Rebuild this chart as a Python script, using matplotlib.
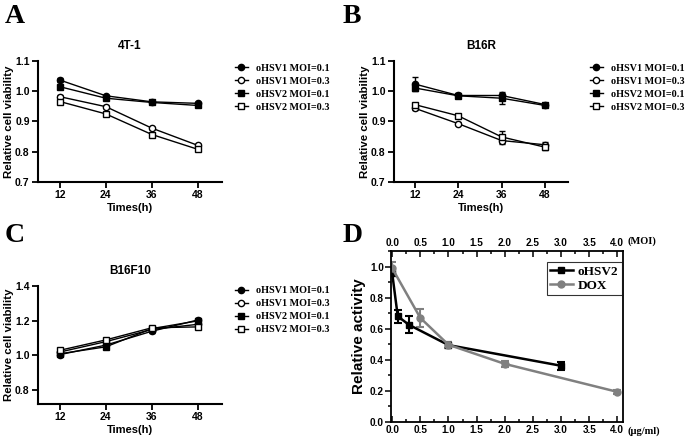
"""Oncolytic HSV viability panels (A-C) and dose-response comparison (D)."""

import matplotlib

matplotlib.use("Agg")

import matplotlib.pyplot as plt
from matplotlib.lines import Line2D
from matplotlib.ticker import AutoMinorLocator, MultipleLocator


TIMES = [12, 24, 36, 48]
SERIES_NAMES = ["oHSV1 MOI=0.1", "oHSV1 MOI=0.3", "oHSV2 MOI=0.1", "oHSV2 MOI=0.3"]

# panel A, 4T-1
A_VALUES = [
    [1.037, 0.985, 0.965, 0.960],
    [0.982, 0.949, 0.878, 0.821],
    [1.015, 0.977, 0.963, 0.953],
    [0.966, 0.925, 0.857, 0.808],
]
A_ERRORS = [
    [0.008, 0.004, 0.003, 0.004],
    [0.005, 0.004, 0.004, 0.005],
    [0.005, 0.004, 0.003, 0.004],
    [0.005, 0.005, 0.004, 0.005],
]

# panel B, B16R
B_VALUES = [
    [1.024, 0.986, 0.986, 0.956],
    [0.944, 0.893, 0.837, 0.823],
    [1.011, 0.985, 0.977, 0.953],
    [0.956, 0.919, 0.849, 0.815],
]
B_ERRORS = [
    [0.022, 0.008, 0.006, 0.005],
    [0.005, 0.006, 0.010, 0.010],
    [0.008, 0.006, 0.020, 0.005],
    [0.005, 0.006, 0.020, 0.008],
]

# panel C, B16F10
C_VALUES = [
    [1.005, 1.060, 1.140, 1.205],
    [1.020, 1.080, 1.150, 1.180],
    [1.010, 1.050, 1.155, 1.200],
    [1.030, 1.090, 1.160, 1.165],
]
C_ERRORS = [
    [0.010, 0.010, 0.008, 0.012],
    [0.010, 0.010, 0.008, 0.012],
    [0.010, 0.012, 0.008, 0.012],
    [0.010, 0.010, 0.008, 0.012],
]

# panel D
OHSV2_MOI = [0.0, 0.1, 0.3, 1.0, 3.0]
OHSV2_ACTIVITY = [0.96, 0.68, 0.625, 0.495, 0.362]
OHSV2_ERR = [0.02, 0.04, 0.055, 0.02, 0.025]
DOX_DOSE = [0.0, 0.5, 1.0, 2.0, 4.0]
DOX_ACTIVITY = [0.99, 0.67, 0.497, 0.374, 0.194]
DOX_ERR = [0.04, 0.06, 0.02, 0.02, 0.012]

SERIES_STYLES = [
    {"marker": "o", "mfc": "black"},
    {"marker": "o", "mfc": "white"},
    {"marker": "s", "mfc": "black"},
    {"marker": "s", "mfc": "white"},
]

SANS = "Liberation Sans"
SERIF = "Liberation Serif"
DOX_GREY = "#808080"


def style_prism_axes(ax):
    for side in ("top", "right"):
        ax.spines[side].set_visible(False)
    for side in ("left", "bottom"):
        ax.spines[side].set_linewidth(1.5)
    ax.tick_params(direction="out", length=4, width=1.3, labelsize=7.5, pad=2)
    for label in ax.get_xticklabels() + ax.get_yticklabels():
        label.set_fontfamily(SANS)
        label.set_fontweight("bold")


def draw_viability_panel(ax, title, values, errors, ylim, yticks, letter, letter_xy, legend_xy):
    for name, vals, errs, style in zip(SERIES_NAMES, values, errors, SERIES_STYLES):
        ax.errorbar(
            TIMES,
            vals,
            yerr=errs,
            color="black",
            linewidth=1.0,
            marker=style["marker"],
            markersize=4.5,
            markerfacecolor=style["mfc"],
            markeredgecolor="black",
            markeredgewidth=1.0,
            capsize=2.5,
            elinewidth=1.0,
            label=name,
        )
    ax.set_xlim(6.3, 54.3)
    ax.set_ylim(*ylim)
    ax.set_xticks(TIMES)
    ax.set_yticks(yticks)
    ax.set_yticklabels(["{:.1f}".format(v) for v in yticks])
    style_prism_axes(ax)
    ax.set_title(title, fontsize=8.5, fontweight="bold", family=SANS, pad=9)
    ax.set_xlabel("Times(h)", fontsize=8, fontweight="bold", family=SANS, labelpad=2)
    ax.set_ylabel("Relative cell viability", fontsize=8.2, fontweight="bold", family=SANS, labelpad=1)

    handles = [
        Line2D([0], [0], color="black", linewidth=1.0, marker=s["marker"], markersize=4.5,
               markerfacecolor=s["mfc"], markeredgecolor="black")
        for s in SERIES_STYLES
    ]
    ax.legend(
        handles,
        SERIES_NAMES,
        loc="upper left",
        bbox_to_anchor=legend_xy,
        frameon=False,
        handlelength=1.3,
        handletextpad=0.8,
        labelspacing=0.38,
        borderpad=0.2,
        prop={"family": SERIF, "weight": "bold", "size": 7.3},
    )
    ax.figure.text(letter_xy[0], letter_xy[1], letter, fontsize=20, fontweight="bold",
                   family=SERIF, va="top", ha="left")


def draw_dose_panel(ax):
    ax.errorbar(OHSV2_MOI, OHSV2_ACTIVITY, yerr=OHSV2_ERR, color="black", linewidth=1.8,
                marker="s", markersize=5, capsize=3, elinewidth=1.5, capthick=1.5)
    ax.errorbar(DOX_DOSE, DOX_ACTIVITY, yerr=DOX_ERR, color=DOX_GREY, linewidth=1.8,
                marker="o", markersize=5, capsize=3, elinewidth=1.5, capthick=1.5)
    ax.set_xlim(-0.02, 4.1)
    ax.set_ylim(0, 1.1)
    ax.xaxis.set_major_locator(MultipleLocator(0.5))
    ax.xaxis.set_minor_locator(AutoMinorLocator(2))
    ax.yaxis.set_major_locator(MultipleLocator(0.2))
    ax.yaxis.set_minor_locator(AutoMinorLocator(2))
    for spine in ax.spines.values():
        spine.set_linewidth(1.3)
    ax.tick_params(axis="x", which="both", direction="in", top=True, labeltop=True,
                   width=1.1, labelsize=7.2, pad=2)
    ax.tick_params(axis="x", which="major", length=4)
    ax.tick_params(axis="x", which="minor", length=2)
    ax.tick_params(axis="y", which="both", direction="out", width=1.1, labelsize=7.2, pad=1)
    ax.tick_params(axis="y", which="major", length=4)
    ax.tick_params(axis="y", which="minor", length=2)
    ax.set_xticklabels(["{:.1f}".format(v) for v in ax.get_xticks()])
    ax.set_yticklabels(["{:.1f}".format(v) for v in ax.get_yticks()])
    for label in ax.get_xticklabels() + ax.get_yticklabels():
        label.set_fontfamily(SANS)
        label.set_fontweight("bold")
    ax.set_ylabel("Relative activity", fontsize=11, fontweight="bold", family=SANS, labelpad=3)
    ax.text(1.02, 1.055, "(MOI)", transform=ax.transAxes, fontsize=7.5, fontweight="bold",
            family=SERIF, va="center", ha="left")
    ax.text(1.02, -0.055, "(\u03bcg/ml)", transform=ax.transAxes, fontsize=7.5, fontweight="bold",
            family=SERIF, va="center", ha="left")
    handles = [
        Line2D([0], [0], color="black", linewidth=1.8, marker="s", markersize=5),
        Line2D([0], [0], color=DOX_GREY, linewidth=1.8, marker="o", markersize=5),
    ]
    leg = ax.legend(handles, ["oHSV2", "DOX"], loc="upper right", bbox_to_anchor=(0.995, 0.935),
                    frameon=True, fancybox=False, handlelength=1.7, handletextpad=0.4,
                    borderpad=0.25, labelspacing=0.15, borderaxespad=0,
                    prop={"family": SERIF, "weight": "bold", "size": 9.5})
    leg.get_frame().set_edgecolor("black")
    leg.get_frame().set_linewidth(0.8)
    ax.figure.text(343 / 689, 1 - 223 / 448, "D", fontsize=20, fontweight="bold",
                   family=SERIF, va="top", ha="left")


def main():
    fig = plt.figure(figsize=(6.89, 4.48), dpi=100)

    ax_a = fig.add_axes([0.0552, 0.5938, 0.267, 0.270])
    draw_viability_panel(ax_a, "4T-1", A_VALUES, A_ERRORS, (0.7, 1.1),
                         [0.7, 0.8, 0.9, 1.0, 1.1], "A", (5 / 689, 1 - 4 / 448), (1.03, 1.035))

    ax_b = fig.add_axes([0.5718, 0.5938, 0.2525, 0.270])
    draw_viability_panel(ax_b, "B16R", B_VALUES, B_ERRORS, (0.7, 1.1),
                         [0.7, 0.8, 0.9, 1.0, 1.1], "B", (343 / 689, 1 - 4 / 448), (1.085, 1.035))

    ax_c = fig.add_axes([0.0552, 0.0982, 0.267, 0.263])
    draw_viability_panel(ax_c, "B16F10", C_VALUES, C_ERRORS, (0.72, 1.4),
                         [0.8, 1.0, 1.2, 1.4], "C", (5 / 689, 1 - 223 / 448), (1.03, 1.06))

    ax_d = fig.add_axes([0.5675, 0.0580, 0.3367, 0.3817])
    draw_dose_panel(ax_d)

    fig.savefig("out.png", dpi=100)
    plt.close(fig)


if __name__ == "__main__":
    main()
